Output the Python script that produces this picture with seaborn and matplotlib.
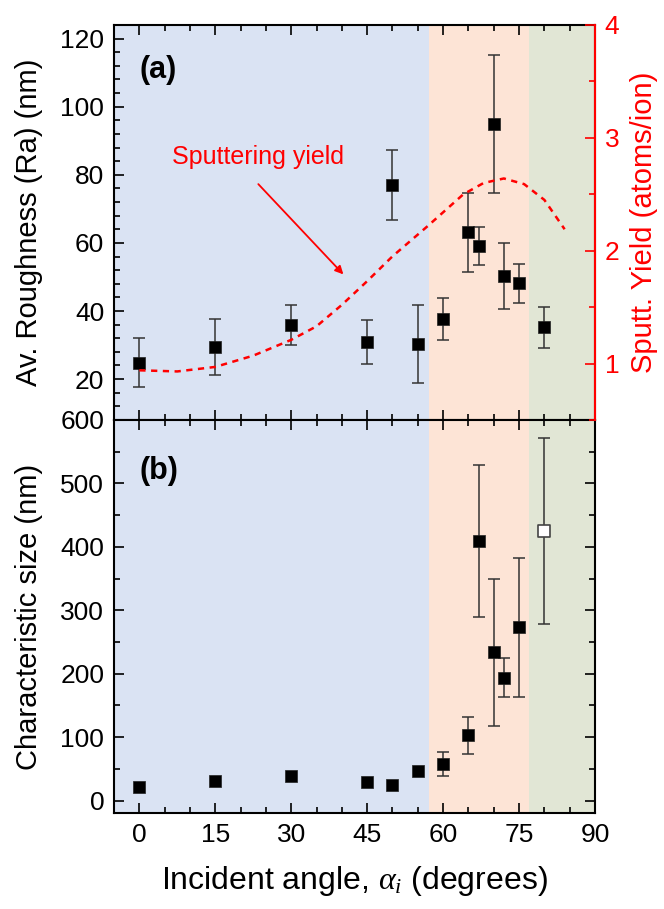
import numpy as np
import pandas as pd
import matplotlib
matplotlib.use("Agg")
import matplotlib.pyplot as plt
import seaborn as sns
from matplotlib.ticker import MultipleLocator

# ---------------- data ----------------
angle_a = [0, 15, 30, 45, 50, 55, 60, 65, 67, 70, 72, 75, 80]
roughness = [24.8, 29.5, 35.9, 31.0, 77.0, 30.3, 37.6, 63.1, 59.2, 94.9, 50.4, 48.1, 35.2]
roughness_err = [7.2, 8.2, 5.9, 6.5, 10.2, 11.5, 6.2, 11.5, 5.6, 20.3, 9.7, 5.7, 6.1]

yield_angle = [0, 7.5, 15, 22.5, 30, 35, 40, 45, 50, 57, 64, 68, 72, 76, 80, 84]
yield_val = [0.94, 0.93, 0.97, 1.07, 1.21, 1.33, 1.52, 1.73, 1.95, 2.22, 2.50, 2.60, 2.64, 2.59, 2.45, 2.19]

angle_b = [0, 15, 30, 45, 50, 55, 60, 65, 67, 70, 72, 75]
char_size = [22, 31, 38, 29, 25, 47, 58, 103, 409, 234, 194, 273]
char_size_err = [0, 0, 0, 0, 0, 0, 19, 29, 120, 116, 30, 110]
angle_open = [80]
size_open = [425]
size_open_err = [147]

regions = [(-5, 57.2, "#dae3f3"), (57.2, 77.0, "#fde4d6"), (77.0, 90, "#e1e6d5")]

# ---------------- style ----------------
sns.set_theme(style="ticks")
plt.rcParams["font.family"] = ["Liberation Sans", "DejaVu Sans"]
plt.rcParams["mathtext.fontset"] = "custom"
plt.rcParams["mathtext.it"] = "Liberation Serif:italic"
plt.rcParams["mathtext.rm"] = "Liberation Sans"
plt.rcParams["text.color"] = "black"
plt.rcParams["axes.labelcolor"] = "black"
plt.rcParams["xtick.color"] = "black"
plt.rcParams["ytick.color"] = "black"

TICK_FS = 19
LABEL_FS = 21

fig = plt.figure(figsize=(6.64, 9.09), dpi=100)
L, W = 0.1717, 0.7244
ax_a = fig.add_axes([L, 0.5380, W, 0.4345])
ax_b = fig.add_axes([L, 0.1053, W, 0.4327])

df_a = pd.DataFrame({"angle": angle_a, "ra": roughness, "err": roughness_err})
df_b = pd.DataFrame({"angle": angle_b, "size": char_size, "err": char_size_err})
df_y = pd.DataFrame({"angle": yield_angle, "y": yield_val})

for ax in (ax_a, ax_b):
    for x0, x1, c in regions:
        ax.axvspan(x0, x1, color=c, lw=0, zorder=0)
    ax.set_xlim(-5, 90)
    ax.xaxis.set_major_locator(MultipleLocator(15))
    ax.xaxis.set_minor_locator(MultipleLocator(5))
    ax.tick_params(which="both", direction="in", top=True, right=(ax is ax_b),
                   labelsize=TICK_FS, width=1.2, colors="black", pad=7)
    ax.tick_params(which="major", length=7)
    ax.tick_params(which="minor", length=4)
    for s in ax.spines.values():
        s.set_linewidth(1.5)
        s.set_color("black")

# ---------------- panel (a) ----------------
ax_a.errorbar(df_a["angle"], df_a["ra"], yerr=df_a["err"], fmt="none",
              ecolor="#333333", elinewidth=1.1, capsize=4, capthick=1.1, zorder=3)
sns.scatterplot(data=df_a, x="angle", y="ra", marker="s", s=80, color="black",
                edgecolor="#222222", linewidth=0.5, ax=ax_a, zorder=4)
ax_a.set_ylim(8, 124)
ax_a.yaxis.set_major_locator(MultipleLocator(20))
ax_a.yaxis.set_minor_locator(MultipleLocator(4))
ax_a.set_yticks([20, 40, 60, 80, 100, 120])
ax_a.tick_params(axis="x", labelbottom=False)
ax_a.set_xlabel("")
ax_a.set_ylabel("Av. Roughness (Ra) (nm)", fontsize=LABEL_FS, color="black")
ax_a.yaxis.set_label_coords(-0.148, 0.5)
ax_a.text(0.052, 0.885, "(a)", transform=ax_a.transAxes, fontsize=22,
          fontweight="bold", va="center", ha="left", color="black")

ax_r = ax_a.twinx()
sns.lineplot(data=df_y, x="angle", y="y", ax=ax_r, color="red", lw=1.8,
             linestyle=(0, (2.5, 2.2)), zorder=5)
ax_r.set_ylim(0.5, 4)
ax_r.yaxis.set_major_locator(MultipleLocator(1))
ax_r.yaxis.set_minor_locator(MultipleLocator(0.5))
ax_r.set_yticks([1, 2, 3, 4])
ax_r.tick_params(which="both", direction="in", colors="red", labelsize=TICK_FS,
                 width=1.2, pad=7)
ax_r.tick_params(which="major", length=7)
ax_r.tick_params(which="minor", length=4)
ax_r.spines["right"].set_color("red")
ax_r.spines["right"].set_linewidth(1.5)
for k in ("left", "top", "bottom"):
    ax_r.spines[k].set_visible(False)
ax_r.set_xlabel("")
ax_r.set_ylabel("Sputt. Yield (atoms/ion)", color="red", fontsize=LABEL_FS, rotation=90)
ax_r.yaxis.set_label_coords(1.072, 0.5)
ax_r.text(23.4, 2.83, "Sputtering yield", color="red", fontsize=18,
          ha="center", va="center")
ax_r.annotate("", xy=(40.3, 1.79), xytext=(23.5, 2.59),
              arrowprops=dict(arrowstyle="-|>", color="red", lw=1.3,
                              mutation_scale=12, shrinkA=0, shrinkB=0))

# ---------------- panel (b) ----------------
nz = df_b["err"] > 0
ax_b.errorbar(df_b["angle"][nz], df_b["size"][nz], yerr=df_b["err"][nz], fmt="none",
              ecolor="#333333", elinewidth=1.1, capsize=4, capthick=1.1, zorder=3)
ax_b.errorbar(angle_open, size_open, yerr=size_open_err, fmt="none",
              ecolor="#333333", elinewidth=1.1, capsize=4, capthick=1.1, zorder=3)
sns.scatterplot(data=df_b, x="angle", y="size", marker="s", s=80, color="black",
                edgecolor="#222222", linewidth=0.5, ax=ax_b, zorder=4)
sns.scatterplot(x=angle_open, y=size_open, marker="s", s=80, color="white",
                edgecolor="#444444", linewidth=1.2, ax=ax_b, zorder=4)
ax_b.set_ylim(-20, 600)
ax_b.yaxis.set_major_locator(MultipleLocator(100))
ax_b.yaxis.set_minor_locator(MultipleLocator(50))
ax_b.set_yticks([0, 100, 200, 300, 400, 500, 600])
ax_b.set_xticks([0, 15, 30, 45, 60, 75, 90])
ax_b.set_ylabel("Characteristic size (nm)", fontsize=LABEL_FS, color="black")
ax_b.yaxis.set_label_coords(-0.148, 0.5)
ax_b.set_xlabel(r"Incident angle, $\alpha_i$ (degrees)", fontsize=23, labelpad=12,
                color="black")
ax_b.text(0.052, 0.87, "(b)", transform=ax_b.transAxes, fontsize=22,
          fontweight="bold", va="center", ha="left", color="black")

fig.savefig("out.png", dpi=100)
